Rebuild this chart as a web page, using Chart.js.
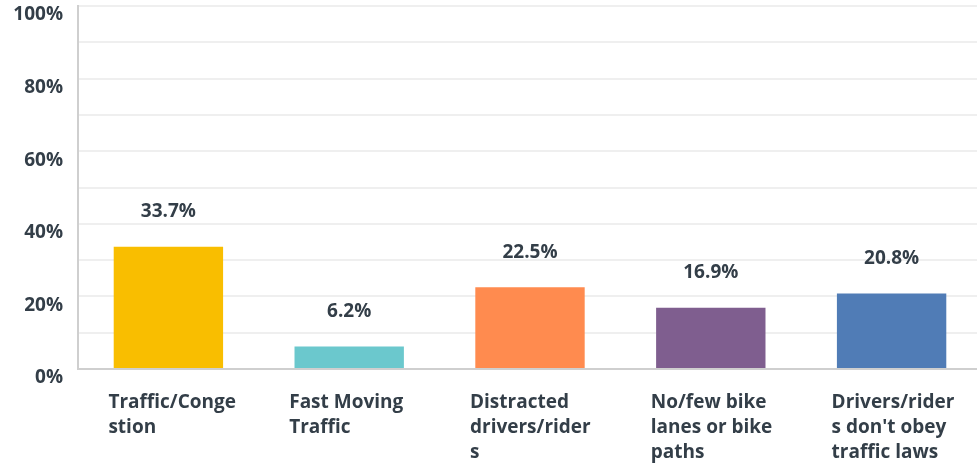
<!DOCTYPE html>
<html>
<head>
<meta charset="utf-8">
<script src="https://cdn.jsdelivr.net/npm/chart.js@4/dist/chart.umd.min.js"></script>
<style>
  html, body { margin: 0; padding: 0; background: #fff; overflow: hidden; }
  #wrap { width: 982px; height: 466px; }
</style>
</head>
<body>
<div id="wrap"><canvas id="chart"></canvas></div>
<script>
// answer choices, each wrapped the way the survey tool breaks them
var categories = [
  ["Traffic/Conge", "stion"],
  ["Fast Moving", "Traffic"],
  ["Distracted", "drivers/rider", "s"],
  ["No/few bike", "lanes or bike", "paths"],
  ["Drivers/rider", "s don't obey", "traffic laws"]
];
var percents = [33.7, 6.2, 22.5, 16.9, 20.8];
var barColors = ["#f9be00", "#6bc8cd", "#ff8b4f", "#7f5e8f", "#507cb6"];
var yTicks = [0, 20, 40, 60, 80, 100];

var textColor = "#333e48";
var fontFamily = "'Open Sans', sans-serif";

// puts the percentage above each bar
var valueLabels = {
  id: 'valueLabels',
  afterDatasetsDraw: function(chart) {
    var ctx = chart.ctx;
    var meta = chart.getDatasetMeta(0);
    ctx.save();
    ctx.fillStyle = textColor;
    ctx.font = "bold 19px " + fontFamily;
    ctx.textAlign = "center";
    ctx.textBaseline = "middle";
    meta.data.forEach(function(bar, i) {
      ctx.fillText(percents[i].toFixed(1) + "%", bar.x, bar.y - 35);
    });
    ctx.restore();
  }
};

var elem = document.getElementById('chart');
var chart = new Chart(elem, {
  type: 'bar',
  data: {
    labels: categories,
    datasets: [{
      data: percents,
      backgroundColor: barColors,
      borderWidth: 0,
      barPercentage: 0.605,
      categoryPercentage: 1
    }]
  },
  options: {
    responsive: true,
    maintainAspectRatio: false,
    animation: false,
    layout: { padding: { top: 6, right: 0, bottom: 0, left: 0 } },
    plugins: {
      legend: { display: false },
      tooltip: { enabled: false }
    },
    scales: {
      x: {
        grid: { display: false },
        border: { display: true, color: "#cfcfcf", width: 2 },
        afterFit: function(scale) {
          scale.height = 97;
          scale.paddingLeft = 0;
          scale.paddingRight = 0;
        },
        ticks: {
          color: textColor,
          font: { family: fontFamily, size: 19, weight: 'bold', lineHeight: 1.32 },
          align: 'start',
          labelOffset: -60,
          padding: 13,
          maxRotation: 0,
          autoSkip: false
        }
      },
      y: {
        min: 0,
        max: 100,
        grid: { color: "#efefef", lineWidth: 2, drawTicks: false },
        border: { display: true, color: "#cfcfcf", width: 2 },
        afterFit: function(scale) {
          scale.width = 78;
          scale.paddingTop = 0;
          scale.paddingBottom = 0;
        },
        ticks: {
          stepSize: 10,
          color: textColor,
          font: { family: fontFamily, size: 19, weight: 'bold' },
          padding: 15,
          labelOffset: 9,
          callback: function(v) {
            return yTicks.indexOf(v) >= 0 ? v + "%" : "";
          }
        }
      }
    }
  },
  plugins: [valueLabels]
});
</script>
</body>
</html>
